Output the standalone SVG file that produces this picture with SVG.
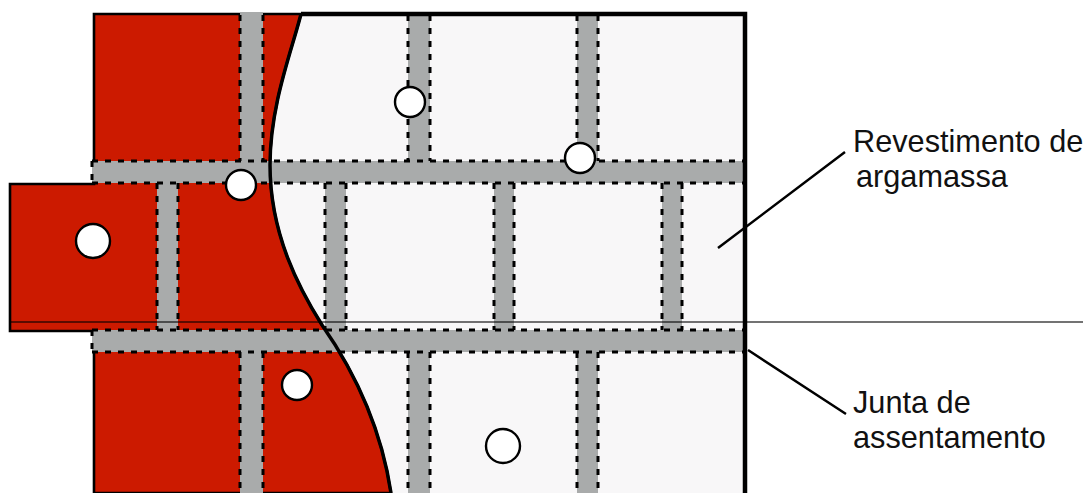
<svg xmlns="http://www.w3.org/2000/svg" width="1088" height="493" viewBox="0 0 1088 493">
<style>
.m{fill:#a9abab}
.d{fill:none;stroke:#000;stroke-width:3;stroke-dasharray:6 7}
.c{fill:#fff;stroke:#000;stroke-width:2.4}
.l{fill:none;stroke:#000;stroke-width:2.5}
text{font-family:"Liberation Sans",Arial,sans-serif;font-size:30.7px;fill:#111}
</style>
<rect width="1088" height="493" fill="#fff"/>
<g id="parede">
<rect x="270" y="14" width="475" height="479" fill="#f8f7f8"/>
<path id="chapisco" d="M94 14H301C292 50 270 105 270 165C270 235 300 290 322 325C350 365 380 420 391 493H94V352H94V331H10V184H94Z" fill="#cc1a00" stroke="#000" stroke-width="2.6"/>
</g>
<g id="juntas">
<rect class="m" x="92" y="161" width="652" height="22"/>
<rect class="m" x="92" y="330" width="652" height="22"/>
<rect class="m" x="240" y="12" width="23" height="149"/>
<rect class="m" x="240" y="352" width="23" height="141"/>
<rect class="m" x="408" y="15" width="22" height="146"/>
<rect class="m" x="577" y="15" width="21" height="146"/>
<rect class="m" x="408" y="352" width="22" height="141"/>
<rect class="m" x="577" y="352" width="21" height="141"/>
<rect class="m" x="157" y="183" width="21" height="147"/>
<rect class="m" x="325" y="183" width="21" height="147"/>
<rect class="m" x="494" y="183" width="20" height="147"/>
<rect class="m" x="662" y="183" width="20" height="147"/>
<path class="d" d="M92 161H744M92 183H744M92 330H744M92 352H744M92 161V183M92 330V352"/>
<path class="d" d="M240 15V161M263 15V161M240 352V493M263 352V493M408 15V161M430 15V161M577 15V161M598 15V161M408 352V493M430 352V493M577 352V493M598 352V493"/>
<path class="d" d="M157 183V330M178 183V330M325 183V330M346 183V330M494 183V330M514 183V330M662 183V330M682 183V330"/>
</g>
<g id="contorno">
<path d="M301 14C292 50 270 105 270 165C270 235 300 290 322 325C350 365 380 420 391 493" fill="none" stroke="#000" stroke-width="3.5"/>
<path d="M301 14H745V493" fill="none" stroke="#000" stroke-width="4.5"/>
<path d="M10 322H1083" fill="none" stroke="#000" stroke-opacity=".55" stroke-width="2"/>
</g>
<g id="furos">
<circle class="c" cx="410" cy="102" r="15"/>
<circle class="c" cx="580" cy="158" r="15"/>
<circle class="c" cx="241" cy="185" r="15"/>
<circle class="c" cx="93" cy="241" r="17"/>
<circle class="c" cx="297" cy="385" r="15"/>
<circle class="c" cx="503" cy="446" r="17"/>
</g>
<g id="rotulos">
<path class="l" d="M718 248L845 152M748 350L846 414"/>
<text x="853" y="152">Revestimento de</text>
<text x="856" y="187">argamassa</text>
<text x="853" y="413">Junta de</text>
<text x="853" y="448">assentamento</text>
</g>
</svg>
